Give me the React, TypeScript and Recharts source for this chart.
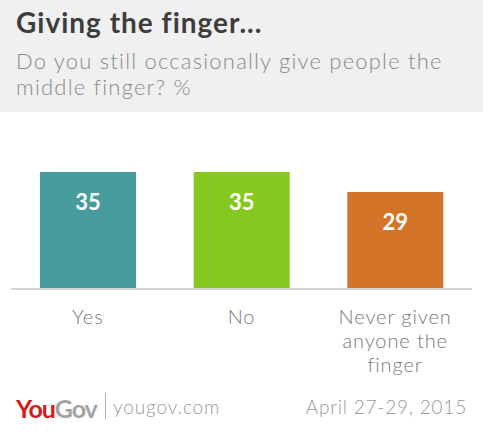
import React from 'react';
import { BarChart, Bar, XAxis, YAxis, Cell, LabelList } from 'recharts';

// survey answers and shares (%)
const categories = ['Yes', 'No', 'Never given anyone the finger'];
const values = [35, 35, 29];
const tickLines = [['Yes'], ['No'], ['Never given', 'anyone the', 'finger']];
const barColors = ['#479c9e', '#86c81f', '#d37428'];

const data = categories.map((name, i) => ({ name, value: values[i] }));

const FONT = 'Lato, "Open Sans", sans-serif';

function CategoryTick(props: any) {
    const { x, y, index } = props;
    const lines = tickLines[index] || [];
    return (
        <text x={x} y={y} textAnchor="middle" fill="#7a7a7a" fontSize={20} fontWeight={300} fontFamily={FONT} letterSpacing={0.9}>
            {lines.map((l, i) => (
                <tspan key={i} x={x} dy={i === 0 ? 27 : 24}>{l}</tspan>
            ))}
        </text>
    );
}

function ValueLabel(props: any) {
    const { x, y, width, value } = props;
    return (
        <text x={x + width / 2} y={y + 29} textAnchor="middle" dominantBaseline="central"
            fill="#ffffff" fontSize={22} fontWeight={700} fontFamily={FONT}>
            {value}
        </text>
    );
}

export default function App() {
    return (
        <div style={{ position: 'relative', width: 483, height: 438, background: '#fff', overflow: 'hidden', fontFamily: FONT }}>
            <style>{'body{margin:0}'}</style>
            <div style={{ position: 'absolute', left: 0, top: 0, width: 483, height: 112, background: '#f0f0f0' }} />
            <div style={{ position: 'absolute', left: 16, top: 5, fontSize: 28, fontWeight: 700, color: '#3d3d3d', whiteSpace: 'nowrap', letterSpacing: 1 }}>
                Giving the finger...
            </div>
            <div style={{ position: 'absolute', left: 16, top: 48, width: 470, fontSize: 22, fontWeight: 300, color: '#8a8a8a', lineHeight: '26px', letterSpacing: 1.2, whiteSpace: 'nowrap' }}>
                Do you still occasionally give people the<br />middle finger? %
            </div>
            <div style={{ position: 'absolute', left: 0, top: 0 }}>
                <BarChart width={483} height={438} data={data} margin={{ top: 172, right: 11, bottom: 59, left: 11 }} barSize={96}>
                    <YAxis hide domain={[0, 35]} />
                    <XAxis dataKey="name" height={90} axisLine={{ stroke: '#d4d4d4', strokeWidth: 2 }} tickLine={false}
                        interval={0} tick={<CategoryTick />} />
                    <Bar dataKey="value" isAnimationActive={false}>
                        {data.map((d, i) => <Cell key={d.name} fill={barColors[i]} />)}
                        <LabelList dataKey="value" content={<ValueLabel />} />
                    </Bar>
                </BarChart>
            </div>
            <div style={{ position: 'absolute', left: 16, top: 393, fontSize: 25, fontWeight: 700, letterSpacing: -1, whiteSpace: 'nowrap' }}>
                <span style={{ color: '#d7191c' }}>You</span><span style={{ color: '#a3a3a3' }}>Gov</span>
            </div>
            <div style={{ position: 'absolute', left: 105, top: 393, width: 1, height: 26, background: '#b0b0b0' }} />
            <div style={{ position: 'absolute', left: 113, top: 395, fontSize: 19, fontWeight: 300, color: '#999', whiteSpace: 'nowrap', letterSpacing: 0.9 }}>
                yougov.com
            </div>
            <div style={{ position: 'absolute', right: 16, top: 395, fontSize: 19, fontWeight: 300, color: '#999', whiteSpace: 'nowrap', letterSpacing: 0.8 }}>
                April 27-29, 2015
            </div>
        </div>
    );
}
